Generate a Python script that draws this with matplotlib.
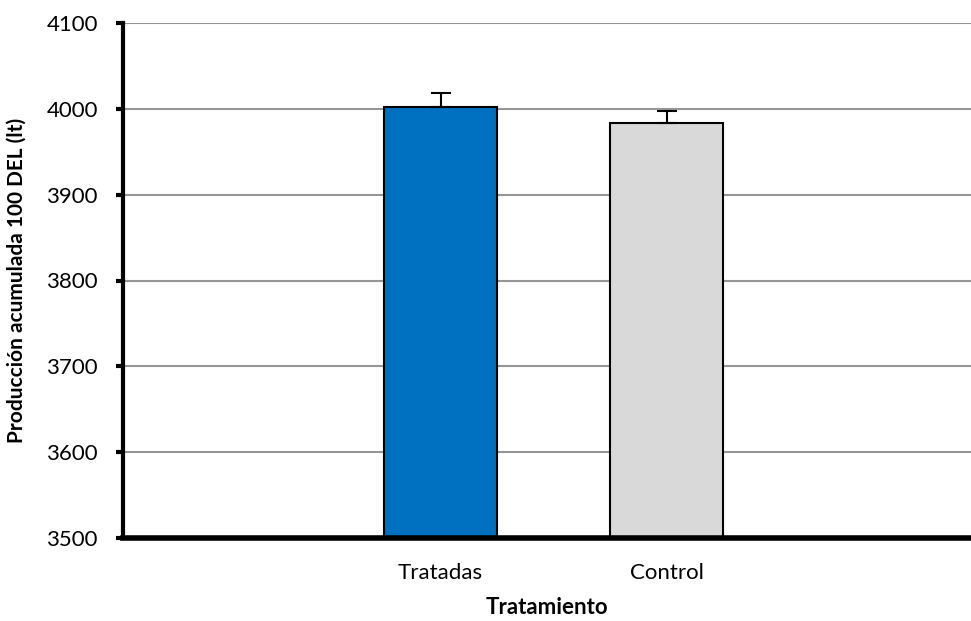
import matplotlib
matplotlib.use('Agg')
import matplotlib.pyplot as plt
import numpy as np

# Data
categories = ['Tratadas', 'Control']
values = [4002, 3983]
errors = [16, 14]
bar_colors = ['#0070C0', '#D9D9D9']
y_ticks = [3500, 3600, 3700, 3800, 3900, 4000, 4100]

plt.rcParams['font.family'] = ['Lato', 'DejaVu Sans']

fig = plt.figure(figsize=(9.71, 6.21), dpi=100)
ax = fig.add_axes([123 / 971, 1 - 538 / 621, (971 - 123) / 971, (538 - 23) / 621])

x = np.arange(len(categories))
ax.bar(x, values, width=0.5, color=bar_colors, edgecolor='black', linewidth=1.5, zorder=3)
ax.errorbar(x, values, yerr=[np.zeros(len(errors)), errors], fmt='none',
            ecolor='black', elinewidth=1.5, capsize=7, capthick=1.5, zorder=4)

ax.set_ylim(3500, 4100)
ax.set_xlim(-1.405, 2.347)
ax.set_yticks(y_ticks)
ax.set_xticks(x)
ax.set_xticklabels(categories, fontsize=16)
ax.tick_params(axis='y', labelsize=16, direction='out', length=5, width=3, pad=13)
ax.tick_params(axis='x', length=0, pad=18)

ax.yaxis.grid(True, color='#969696', linewidth=1.5, zorder=0)
ax.set_axisbelow(True)

for side in ['top', 'right']:
    ax.spines[side].set_visible(False)
ax.spines['left'].set_linewidth(3)
ax.spines['bottom'].set_linewidth(4)
ax.spines['bottom'].set_zorder(5)

ax.set_xlabel('Tratamiento', fontsize=16, fontweight='bold', labelpad=10)
ax.set_ylabel('Producción acumulada 100 DEL (lt)', fontsize=15, fontweight='bold', labelpad=14)

fig.savefig('out.png', dpi=100)
